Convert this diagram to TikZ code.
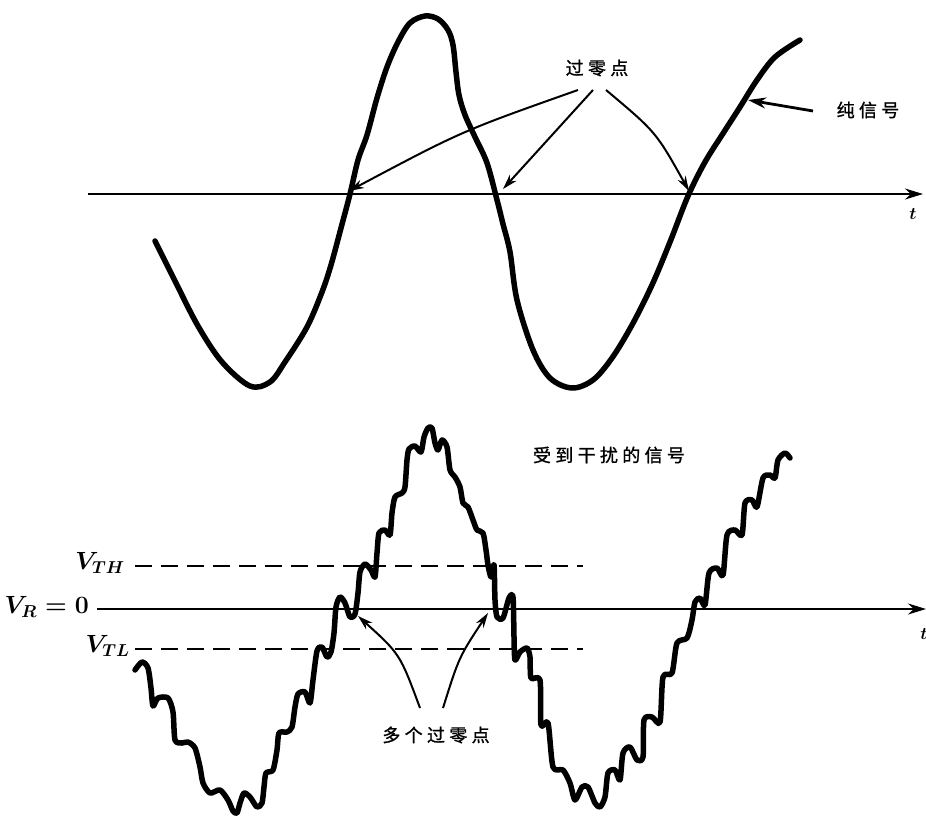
\documentclass[tikz,border=0pt]{standalone}
\usepackage{fontspec}
\usepackage{amsmath}
\usetikzlibrary{arrows.meta}
\newfontfamily\cjk[LetterSpace=24,FakeBold=1.2]{Noto Sans CJK SC}
\begin{document}
\begin{tikzpicture}[x=1pt,y=-1pt,
  signal/.style={line width=5.5pt, line join=round, line cap=round},
  axisline/.style={line width=2pt, -{Stealth[length=18pt,width=11pt]}},
  thr/.style={line width=2pt, dash pattern=on 17pt off 9pt},
  pointer/.style={line width=2pt, -{Stealth[length=15pt,width=9pt]}},
  lbl/.style={font=\fontsize{18}{21}\selectfont\cjk, inner sep=0pt},
  vlbl/.style={font=\fontsize{25}{28}\selectfont\boldmath, inner sep=0pt, anchor=east},
  tlbl/.style={font=\fontsize{19}{22}\selectfont\boldmath, inner sep=0pt}]
\useasboundingbox (0,0) rectangle (926,816);

% ---------- top panel ----------
\coordinate (ta0) at (88,194);
\coordinate (ta1) at (923,194);
\draw[axisline] (ta0) -- (ta1);
\node[tlbl] (tt) at (913,214) {$t$};

\draw[signal] plot[smooth, tension=0.55] coordinates {
(155,241) (175,281) (198,326) (222,362) (250,386) (270,382) (285,362) (307,327)
(322,292) (331,265) (341,228) (350,194) (358,160) (367,135) (377,98) (387,67)
(398,42) (410,23) (425,16) (438,19) (448,30) (453,45) (456,72) (459,95) (465,115)
(475,137) (487,163) (497,200) (503,224) (510,252) (517,300) (533,350) (550,378)
(572,388) (593,380) (612,358) (632,325) (652,285) (670,242) (688,196) (705,162)
(722,135) (740,107) (757,80) (775,57) (800,40)};

\node[lbl] (zc) at (597,68) {过零点};
\coordinate (zcA) at (578,90);
\coordinate (zcB) at (593,90);
\coordinate (zcC) at (606,90);
\coordinate (z1) at (349,191);
\coordinate (z2) at (503,189);
\coordinate (z3) at (689,191);
\draw[pointer] (zcA) .. controls (462,131) .. (z1);
\draw[pointer] (zcB) -- (z2);
\draw[pointer] (zcC) .. controls (656,132) .. (z3);

\node[lbl] (pure) at (868,110) {纯信号};
\coordinate (pA) at (813,111);
\coordinate (pB) at (748,100);
\draw[line width=2.8pt, -{Stealth[length=18pt,width=11pt]}] (pA) -- (pB);

% ---------- bottom panel ----------
\coordinate (ba0) at (97,609);
\coordinate (ba1) at (926,609);
\draw[axisline] (ba0) -- (ba1);
\node[tlbl] (bt) at (924,634) {$t$};

\coordinate (th0) at (135,566);
\coordinate (th1) at (583,566);
\coordinate (tl0) at (135,649);
\coordinate (tl1) at (583,649);
\draw[thr] (th0) -- (th1);
\draw[thr] (tl0) -- (tl1);

\node[vlbl] (vth) at (125,563) {$V_{TH}$};
\node[vlbl] (vr) at (89,607) {$V_R = 0$};
\node[vlbl] (vtl) at (130,646) {$V_{TL}$};

\draw[signal] plot[smooth, tension=0.45] coordinates {
(135,670) (142,662) (148,668) (151,688) (153,706) (158,698) (168,698) (173,712)
(175,740) (182,743) (188,742) (195,748) (200,767) (203,783) (210,793) (220,790)
(228,800) (233,811) (237,813) (240,803) (244,793) (250,797) (257,807) (262,803)
(264,787) (266,773) (273,770) (277,750) (279,733) (287,732) (292,727) (295,707)
(298,694) (305,692) (310,703) (313,680) (317,651) (322,647) (327,657) (331,652)
(334,633) (336,607) (340,597) (345,603) (350,617) (355,614) (358,593) (360,572)
(365,564) (371,570) (375,577) (377,553) (379,533) (385,530) (390,535) (392,513)
(395,497) (402,493) (405,487) (407,460) (409,449) (415,446) (421,452) (424,437)
(428,428) (432,428) (435,443) (438,450) (442,440) (447,447) (450,470) (455,477)
(460,487) (463,503) (468,507) (473,520) (477,530) (483,533) (486,550) (488,565)
(491,577) (494,565) (495,600) (497,617) (503,618) (509,598) (513,597) (514,637)
(515,660) (520,652) (527,648) (530,657) (531,678) (540,680) (541,725) (548,723)
(553,767) (563,770) (570,783) (575,800) (582,787) (588,787) (595,803) (600,807)
(605,797) (608,773) (615,770) (620,780) (623,753) (630,747) (637,760) (643,757)
(644,720) (652,717) (660,722) (663,677) (672,673) (677,643) (687,638) (692,620)
(695,602) (700,598) (705,605) (709,573) (717,568) (723,575) (727,535) (735,530)
(742,535) (745,503) (752,500) (757,507) (763,478) (770,475) (775,478) (778,460)
(785,453) (790,458)};

\node[lbl] (noisy) at (609,455) {受到干扰的信号};
\node[lbl] (multi) at (436,735) {多个过零点};
\coordinate (mA) at (420,708);
\coordinate (mB) at (443,708);
\coordinate (m1) at (358,616);
\coordinate (m2) at (488,613);
\draw[pointer] (mA) .. controls (400,654) .. (m1);
\draw[pointer] (mB) .. controls (459,657) .. (m2);
\end{tikzpicture}
\end{document}
